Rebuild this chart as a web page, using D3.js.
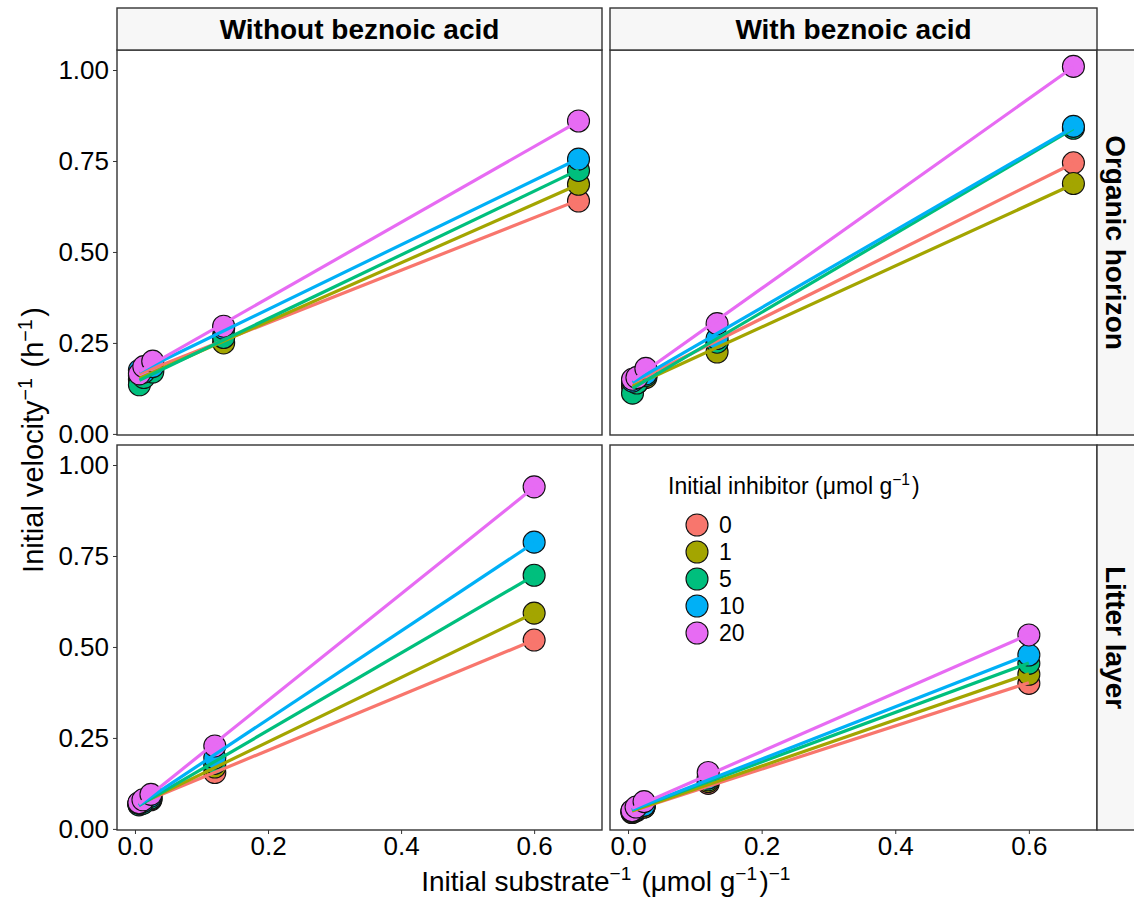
<!DOCTYPE html>
<html>
<head>
<meta charset="utf-8">
<script src="https://cdn.jsdelivr.net/npm/d3@7"></script>
<style>
body { margin: 0; background: #fff; }
text { font-family: "Liberation Sans", Arial, sans-serif; }
</style>
</head>
<body>
<svg id="chart" width="1134" height="901"></svg>
<script>
// =============
// CHART VALUES
// =============
// 1 / substrate concentration, for each soil layer
var substrateOrganic = [0.0067, 0.0133, 0.0267, 0.1333, 0.6667];
var substrateLitter = [0.006, 0.012, 0.024, 0.12, 0.6];

var inhibitorLevels = ["0", "1", "5", "10", "20"];
var inhibitorColors = ["#F8766D", "#A3A500", "#00BF7D", "#00B0F6", "#E76BF3"];

var acidLabels = ["Without beznoic acid", "With beznoic acid"];
var layerLabels = ["Organic horizon", "Litter layer"];

var yTicks = [0, 0.25, 0.5, 0.75, 1.0];
var xTicks = [0, 0.2, 0.4, 0.6];

// 1 / initial velocity, one row per inhibitor level
var organicWithout = [
  [0.160, 0.165, 0.180, 0.270, 0.640],
  [0.150, 0.160, 0.175, 0.250, 0.686],
  [0.135, 0.155, 0.170, 0.265, 0.724],
  [0.175, 0.170, 0.185, 0.290, 0.755],
  [0.165, 0.185, 0.200, 0.296, 0.860]
];
var organicWith = [
  [0.140, 0.150, 0.160, 0.250, 0.745],
  [0.130, 0.140, 0.155, 0.225, 0.688],
  [0.112, 0.140, 0.160, 0.252, 0.840],
  [0.145, 0.155, 0.165, 0.262, 0.845],
  [0.150, 0.155, 0.180, 0.303, 1.010]
];
var litterWithout = [
  [0.070, 0.075, 0.080, 0.155, 0.519],
  [0.068, 0.072, 0.082, 0.170, 0.593],
  [0.066, 0.070, 0.085, 0.180, 0.697],
  [0.070, 0.075, 0.090, 0.195, 0.788],
  [0.072, 0.080, 0.095, 0.228, 0.940]
];
var litterWith = [
  [0.045, 0.050, 0.060, 0.125, 0.400],
  [0.045, 0.052, 0.060, 0.130, 0.425],
  [0.048, 0.055, 0.065, 0.135, 0.455],
  [0.050, 0.055, 0.065, 0.140, 0.478],
  [0.050, 0.060, 0.075, 0.155, 0.533]
];

var panels = [
  { col: 0, row: 0, xs: substrateOrganic, series: organicWithout },
  { col: 1, row: 0, xs: substrateOrganic, series: organicWith },
  { col: 0, row: 1, xs: substrateLitter, series: litterWithout },
  { col: 1, row: 1, xs: substrateLitter, series: litterWith }
];

// =======
// LAYOUT
// =======
var colX = [[117, 602], [610, 1097]];
var rowY = [[50, 435], [445, 830]];
var stripTop = 8;
var stripRight = 1140;
var tickFont = 26;
var border = "#333333";
var stripFill = "#f7f7f7";

var svg = d3.select("#chart");

// ####################################
// # least squares line, like lm()
// ####################################
function fitLine(xs, ys) {
  var mx = d3.mean(xs), my = d3.mean(ys);
  var sxy = 0, sxx = 0;
  for (var i = 0; i < xs.length; i++) {
    sxy += (xs[i] - mx) * (ys[i] - my);
    sxx += (xs[i] - mx) * (xs[i] - mx);
  }
  var slope = sxy / sxx;
  return { slope: slope, intercept: my - slope * mx };
}

// ####################################
// # text with superscript parts
// ####################################
function addRichText(sel, parts, size) {
  parts.forEach(function (p) {
    if (p.sup) {
      sel.append("tspan").attr("dy", -size * 0.38).attr("font-size", size * 0.68).text(p.t);
      sel.append("tspan").attr("dy", size * 0.38).attr("font-size", size).text("\u200a");
    } else {
      sel.append("tspan").attr("font-size", size).text(p.t);
    }
  });
}

// ########
// # MAIN #
// ########
panels.forEach(function (p) {
  var x = d3.scaleLinear().domain([-0.027, 0.702]).range(colX[p.col]);
  var y = d3.scaleLinear().domain([-0.003, 1.055]).range([rowY[p.row][1], rowY[p.row][0]]);

  var g = svg.append("g");

  g.append("rect")
    .attr("x", colX[p.col][0]).attr("y", rowY[p.row][0])
    .attr("width", colX[p.col][1] - colX[p.col][0])
    .attr("height", rowY[p.row][1] - rowY[p.row][0])
    .attr("fill", "#fff");

  // points first, fitted lines drawn over them
  p.series.forEach(function (ys, k) {
    g.selectAll(null)
      .data(ys)
      .enter().append("circle")
      .attr("cx", function (d, i) { return x(p.xs[i]); })
      .attr("cy", function (d) { return y(d); })
      .attr("r", 11)
      .attr("fill", inhibitorColors[k])
      .attr("stroke", "#111")
      .attr("stroke-width", 1.1);
  });

  p.series.forEach(function (ys, k) {
    var fit = fitLine(p.xs, ys);
    var x0 = d3.min(p.xs), x1 = d3.max(p.xs);
    g.append("line")
      .attr("x1", x(x0)).attr("y1", y(fit.intercept + fit.slope * x0))
      .attr("x2", x(x1)).attr("y2", y(fit.intercept + fit.slope * x1))
      .attr("stroke", inhibitorColors[k])
      .attr("stroke-width", 3.2)
      .attr("stroke-linecap", "butt");
  });

  g.append("rect")
    .attr("x", colX[p.col][0]).attr("y", rowY[p.row][0])
    .attr("width", colX[p.col][1] - colX[p.col][0])
    .attr("height", rowY[p.row][1] - rowY[p.row][0])
    .attr("fill", "none")
    .attr("stroke", border)
    .attr("stroke-width", 1.4);

  if (p.col === 0) {
    var ya = svg.append("g")
      .attr("transform", "translate(" + colX[0][0] + ",0)")
      .call(d3.axisLeft(y).tickValues(yTicks).tickFormat(d3.format(".2f")).tickSize(4).tickPadding(4));
    ya.select(".domain").remove();
    ya.selectAll("line").attr("stroke", border);
    ya.selectAll("text").attr("font-size", tickFont).attr("fill", "#000")
      .attr("font-family", "Liberation Sans, Arial, sans-serif");
  }
  if (p.row === 1) {
    var xa = svg.append("g")
      .attr("transform", "translate(0," + rowY[1][1] + ")")
      .call(d3.axisBottom(x).tickValues(xTicks).tickFormat(d3.format(".1f")).tickSize(4).tickPadding(3));
    xa.select(".domain").remove();
    xa.selectAll("line").attr("stroke", border);
    xa.selectAll("text").attr("font-size", tickFont).attr("fill", "#000")
      .attr("font-family", "Liberation Sans, Arial, sans-serif");
  }
});

// ===============
// STRIPS (facets)
// ===============
acidLabels.forEach(function (label, c) {
  svg.append("rect")
    .attr("x", colX[c][0]).attr("y", stripTop)
    .attr("width", colX[c][1] - colX[c][0]).attr("height", rowY[0][0] - stripTop)
    .attr("fill", stripFill).attr("stroke", border).attr("stroke-width", 1.4);
  svg.append("text")
    .attr("x", (colX[c][0] + colX[c][1]) / 2)
    .attr("y", (stripTop + rowY[0][0]) / 2)
    .attr("text-anchor", "middle")
    .attr("dominant-baseline", "central")
    .attr("font-size", 28)
    .attr("font-weight", "bold")
    .text(label);
});

layerLabels.forEach(function (label, r) {
  svg.append("rect")
    .attr("x", colX[1][1]).attr("y", rowY[r][0])
    .attr("width", stripRight - colX[1][1]).attr("height", rowY[r][1] - rowY[r][0])
    .attr("fill", stripFill).attr("stroke", border).attr("stroke-width", 1.4);
  var cx = 1115, cy = (rowY[r][0] + rowY[r][1]) / 2;
  svg.append("text")
    .attr("transform", "translate(" + cx + "," + cy + ") rotate(90)")
    .attr("text-anchor", "middle")
    .attr("dominant-baseline", "central")
    .attr("font-size", 28)
    .attr("font-weight", "bold")
    .text(label);
});

// ============
// AXIS TITLES
// ============
var xTitle = svg.append("text")
  .attr("x", 607).attr("y", 891)
  .attr("text-anchor", "middle");
addRichText(xTitle, [
  { t: "Initial substrate" }, { t: "\u22121", sup: true },
  { t: " (\u03bcmol g" }, { t: "\u22121", sup: true }, { t: ")" }, { t: "\u22121", sup: true }
], 28);

var yTitle = svg.append("text")
  .attr("transform", "translate(43,440) rotate(-90)")
  .attr("text-anchor", "middle");
addRichText(yTitle, [
  { t: "Initial velocity" }, { t: "\u22121", sup: true },
  { t: " (h" }, { t: "\u22121", sup: true }, { t: ")" }
], 29);

// =======
// LEGEND
// =======
var legend = svg.append("g");
var legTitle = legend.append("text").attr("x", 668).attr("y", 494);
addRichText(legTitle, [
  { t: "Initial inhibitor (\u03bcmol g" }, { t: "\u22121", sup: true }, { t: ")" }
], 23);

inhibitorLevels.forEach(function (lev, i) {
  var cy = 525 + i * 27;
  legend.append("circle")
    .attr("cx", 697).attr("cy", cy).attr("r", 11)
    .attr("fill", inhibitorColors[i]).attr("stroke", "#111").attr("stroke-width", 1.1);
  legend.append("text")
    .attr("x", 719).attr("y", cy)
    .attr("dominant-baseline", "central")
    .attr("font-size", 23)
    .text(lev);
});
</script>
</body>
</html>
